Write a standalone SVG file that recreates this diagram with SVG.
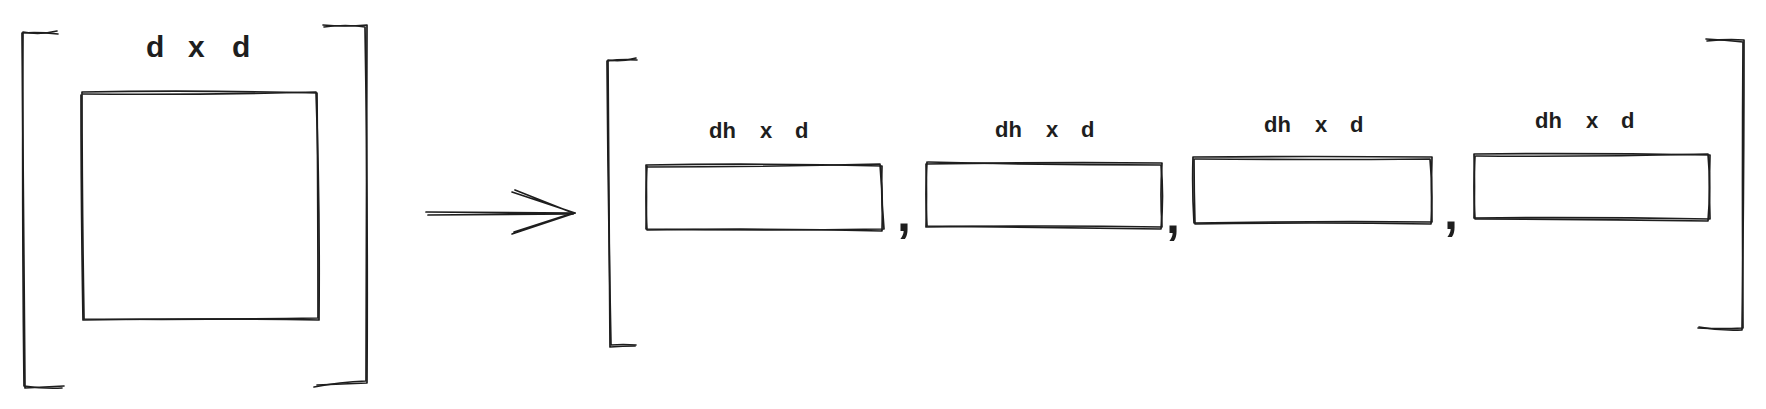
<svg xmlns="http://www.w3.org/2000/svg" width="1766" height="409" viewBox="0 0 1766 409">
<style>
.s{fill:none;stroke:#1e1e1e;stroke-width:1.7;stroke-linecap:round;stroke-linejoin:round}
.t{font-family:"Liberation Sans","DejaVu Sans",sans-serif;fill:#1e1e1e;font-weight:bold}
.big{font-size:30px}
.lab{font-size:22px}
.cm{font-family:"Liberation Sans",sans-serif;font-size:50px;font-weight:bold;fill:#1e1e1e}
</style>
<rect width="1766" height="409" fill="#ffffff"/>
<g id="bracket-left-1">
<path class="s" d="M58 34 Q40 32 22 33 Q23 210 25 388 Q45 387 64 386"/>
<path class="s" d="M57 31 Q40 35 23 32 Q22 210 24 386 Q45 389 62 388"/>
</g>
<g id="bracket-right-1">
<path class="s" d="M323 25 Q345 27 367 25 Q366 200 366 381 Q340 382 314 387"/>
<path class="s" d="M324 27 Q346 24 365 27 Q368 200 367 383 Q340 384 317 385"/>
</g>
<g id="matrix-d-d">
<path class="s" d="M82 92 Q200 90 317 93 Q318 200 318 318 Q200 320 84 319 Q82 200 82 92"/>
<path class="s" d="M83 94 Q200 95 316 92 Q320 200 319 320 Q200 318 83 320 Q81 200 81 95"/>
<text class="t big" y="57"><tspan x="146">d</tspan><tspan x="188">x</tspan><tspan x="232">d</tspan></text>
</g>
<g id="connectors">
<path class="s" d="M426 212 L575 213 M428 215 L573 214"/>
<path class="s" d="M512 192 L575 213 L512 234 M515 190 L573 213 L514 232"/>
</g>
<g id="bracket-left-2">
<path class="s" d="M637 60 Q622 59 607 61 Q608 200 611 345 Q623 344 636 345"/>
<path class="s" d="M636 58 Q622 62 608 60 Q609 200 610 347 Q623 346 635 346"/>
</g>
<g id="bracket-right-2">
<path class="s" d="M1706 39 Q1725 40 1743 42 Q1742 180 1743 328 Q1720 329 1698 328"/>
<path class="s" d="M1707 41 Q1725 39 1744 40 Q1744 180 1742 330 Q1720 331 1699 327"/>
</g>
<g id="slice-1">
<path class="s" d="M646 165 Q764 163 882 166 Q881 197 884 229 Q764 231 646 229 Q647 197 646 165"/>
<path class="s" d="M647 167 Q764 167 880 164 Q883 197 882 231 Q764 228 647 230 Q645 197 647 166"/>
<text class="t lab" y="138"><tspan x="709">dh</tspan><tspan x="760">x</tspan><tspan x="795">d</tspan></text>
</g>
<text id="comma-1" class="cm" x="897" y="231">,</text>
<g id="slice-2">
<path class="s" d="M926 164 Q1044 162 1162 163 Q1160 195 1162 227 Q1044 225 926 227 Q927 195 926 164"/>
<path class="s" d="M928 162 Q1044 165 1161 165 Q1164 195 1161 229 Q1044 228 927 226 Q925 195 927 162"/>
<text class="t lab" y="137"><tspan x="995">dh</tspan><tspan x="1046">x</tspan><tspan x="1081">d</tspan></text>
</g>
<text id="comma-2" class="cm" x="1166" y="233">,</text>
<g id="slice-3">
<path class="s" d="M1193 157 Q1312 156 1432 157 Q1431 190 1432 222 Q1312 221 1194 223 Q1192 190 1193 157"/>
<path class="s" d="M1195 159 Q1312 160 1430 159 Q1433 190 1431 224 Q1312 222 1195 224 Q1194 190 1194 159"/>
<text class="t lab" y="132"><tspan x="1264">dh</tspan><tspan x="1315">x</tspan><tspan x="1350">d</tspan></text>
</g>
<text id="comma-3" class="cm" x="1444" y="229">,</text>
<g id="slice-4">
<path class="s" d="M1474 154 Q1592 153 1710 155 Q1709 187 1710 219 Q1592 217 1474 218 Q1475 187 1474 154"/>
<path class="s" d="M1476 156 Q1592 157 1708 154 Q1711 187 1708 221 Q1592 219 1475 219 Q1473 187 1475 156"/>
<text class="t lab" y="128"><tspan x="1535">dh</tspan><tspan x="1586">x</tspan><tspan x="1621">d</tspan></text>
</g>
</svg>
